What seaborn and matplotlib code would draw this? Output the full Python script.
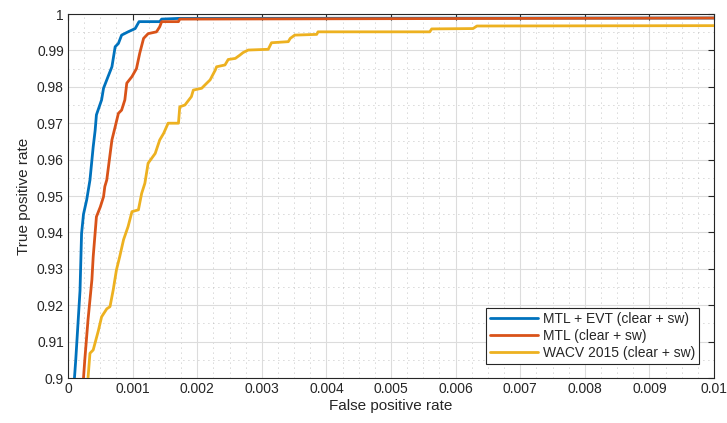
import matplotlib
matplotlib.use("Agg")
import matplotlib.pyplot as plt
import seaborn as sns
from matplotlib.ticker import MultipleLocator

# ---- data ----
evt_fpr = [0.00010, 0.00012, 0.000186, 0.00021, 0.00024, 0.00029, 0.00034, 0.00039, 0.00042,
           0.00044, 0.00052, 0.00055, 0.00062, 0.00068, 0.00073, 0.00078, 0.00083, 0.00093,
           0.00104, 0.00110, 0.00142, 0.00145, 0.00173, 0.0100]
evt_tpr = [0.900, 0.905, 0.924, 0.9397, 0.945, 0.949, 0.9544, 0.9635, 0.968,
           0.9723, 0.9764, 0.9796, 0.9828, 0.9855, 0.991, 0.9919, 0.9942, 0.9951,
           0.996, 0.9979, 0.9979, 0.9986, 0.9988, 0.9989]

mtl_fpr = [0.00024, 0.00026, 0.00031, 0.00037, 0.00039, 0.00044, 0.00050, 0.00055, 0.00057,
           0.00060, 0.00068, 0.00073, 0.00078, 0.00083, 0.00088, 0.00091, 0.00099, 0.00106,
           0.00111, 0.00117, 0.00124, 0.00137, 0.00142, 0.00145, 0.00171, 0.00173, 0.0100]
mtl_tpr = [0.900, 0.905, 0.916, 0.927, 0.9333, 0.9443, 0.947, 0.9498, 0.9526,
           0.9544, 0.9654, 0.969, 0.9727, 0.9736, 0.9764, 0.981, 0.9828, 0.985,
           0.9892, 0.9933, 0.9946, 0.9951, 0.9965, 0.9979, 0.9979, 0.9986, 0.9989]

wacv_fpr = [0.00031, 0.00034, 0.00039, 0.00047, 0.00052, 0.00060, 0.00065, 0.00070, 0.00075,
            0.00080, 0.00086, 0.00093, 0.00099, 0.00109, 0.00114, 0.00119, 0.00124, 0.00135,
            0.00142, 0.00148, 0.00155, 0.00171, 0.00173, 0.00181, 0.00191, 0.00194, 0.00207,
            0.00212, 0.00220, 0.00228, 0.00230, 0.00243, 0.00248, 0.00259, 0.00266, 0.00271,
            0.00279, 0.00310, 0.00315, 0.00341, 0.00344, 0.00351, 0.00385, 0.00387, 0.00560,
            0.00563, 0.00627, 0.00633, 0.0100]
wacv_tpr = [0.900, 0.9068, 0.9077, 0.913, 0.9168, 0.919, 0.9196, 0.9242, 0.9297,
            0.9333, 0.938, 0.9416, 0.9457, 0.9462, 0.9507, 0.9535, 0.959, 0.9617,
            0.9654, 0.9672, 0.970, 0.970, 0.9745, 0.975, 0.9773, 0.9791, 0.9796,
            0.9805, 0.9819, 0.9846, 0.9855, 0.986, 0.9875, 0.9878, 0.9887, 0.9894,
            0.9901, 0.9903, 0.9921, 0.9924, 0.9933, 0.9942, 0.9944, 0.9951, 0.9951,
            0.9959, 0.996, 0.9967, 0.9968]

labels = ["MTL + EVT (clear + sw)", "MTL (clear + sw)", "WACV 2015 (clear + sw)"]
colors = ["#0072BD", "#D95319", "#EDB120"]
x_ticks = [0, 0.001, 0.002, 0.003, 0.004, 0.005, 0.006, 0.007, 0.008, 0.009, 0.01]
x_ticklabels = ["0", "0.001", "0.002", "0.003", "0.004", "0.005", "0.006", "0.007", "0.008", "0.009", "0.01"]
y_ticks = [0.9, 0.91, 0.92, 0.93, 0.94, 0.95, 0.96, 0.97, 0.98, 0.99, 1.0]
y_ticklabels = ["0.9", "0.91", "0.92", "0.93", "0.94", "0.95", "0.96", "0.97", "0.98", "0.99", "1"]

sns.set_theme(style="white")
plt.rcParams["font.family"] = ["Liberation Sans", "DejaVu Sans"]

fig = plt.figure(figsize=(7.27, 4.23), dpi=100)
ax = fig.add_axes([68/727, 45/423, 646/727, 364/423])

series = [(evt_fpr, evt_tpr), (mtl_fpr, mtl_tpr), (wacv_fpr, wacv_tpr)]
for (fx, ty), lab, col in zip(series, labels, colors):
    sns.lineplot(x=fx, y=ty, ax=ax, estimator=None, sort=False, color=col,
                 linewidth=2.0, label=lab, zorder=3)

ax.set_xlim(0, 0.01)
ax.set_ylim(0.9, 1.0)
ax.set_xticks(x_ticks)
ax.set_xticklabels(x_ticklabels)
ax.set_yticks(y_ticks)
ax.set_yticklabels(y_ticklabels)
ax.xaxis.set_minor_locator(MultipleLocator(0.00025))
ax.yaxis.set_minor_locator(MultipleLocator(0.005))

ax.grid(True, which="major", color="#dcdcdc", linewidth=0.8, linestyle="-", zorder=0)
ax.grid(True, which="minor", color="#b0b0b0", linewidth=0.6, linestyle=(0, (1, 5)), zorder=0)
ax.set_axisbelow(True)

ax.tick_params(axis="both", which="major", direction="in", length=4, width=0.8,
               colors="#262626", labelsize=10, top=True, right=True, pad=3)
ax.tick_params(axis="both", which="minor", length=0, top=True, right=True)
for sp in ax.spines.values():
    sp.set_color("#262626")
    sp.set_linewidth(0.8)

ax.set_xlabel("False positive rate", fontsize=11, color="#262626", labelpad=2)
ax.set_ylabel("True positive rate", fontsize=11, color="#262626", labelpad=4)

leg = ax.legend(loc="lower right", fontsize=10, frameon=True, fancybox=False,
                edgecolor="#262626", framealpha=1, borderpad=0.3, labelspacing=0.2,
                handlelength=3.5, handletextpad=0.3, borderaxespad=0,
                bbox_to_anchor=(1 - 15/646, 14/364))
leg.get_frame().set_linewidth(0.8)
for h in leg.get_lines():
    h.set_linewidth(2.0)

fig.savefig("out.png", dpi=100)
